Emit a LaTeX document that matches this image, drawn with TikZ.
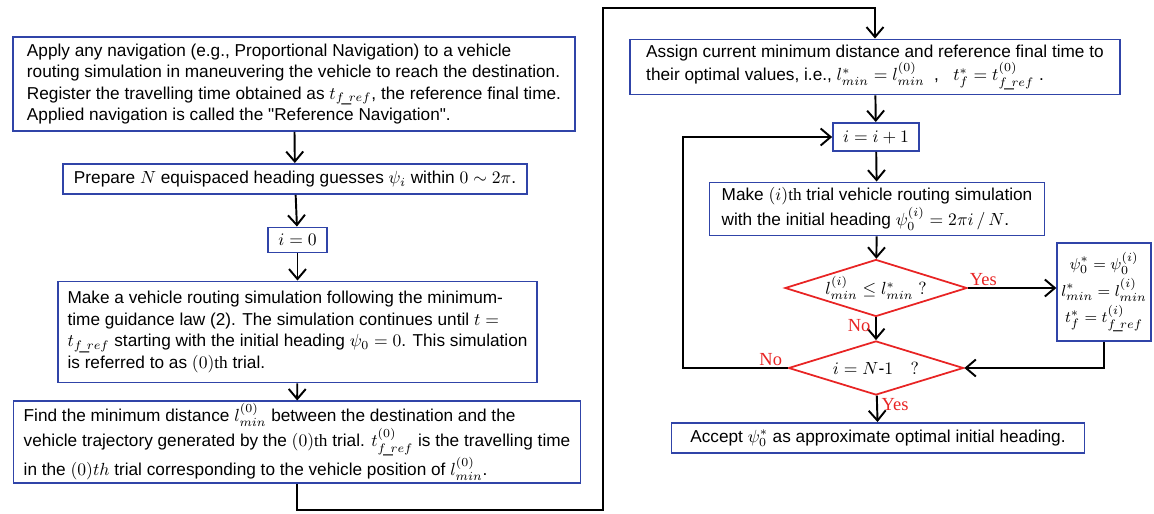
\documentclass[tikz,border=0pt]{standalone}
\usepackage{fontspec}
\setmainfont{Liberation Sans}
\newfontfamily\serif{Liberation Serif}
\usetikzlibrary{arrows.meta,shapes.geometric}
\definecolor{boxblue}{RGB}{48,68,168}
\definecolor{testred}{RGB}{232,36,36}
\newcommand{\fref}{f\mkern-3mu\_\mkern-3mu ref}

\begin{document}
\begin{tikzpicture}[
  stepbox/.style={draw=boxblue, line width=1.1pt, fill=white, inner xsep=0.2cm, inner ysep=0.1cm,
    font=\fontsize{9.8}{12.2}\selectfont},
  textbox/.style={stepbox, align=left, minimum width=#1},
  testbox/.style={diamond, draw=testred, line width=1pt, inner sep=0pt, aspect=3,
    font=\fontsize{10}{12}\selectfont},
  flow/.style={-{Straight Barb[length=2mm,width=3.4mm]}, line width=1.1pt},
  answer/.style={text=testred, font=\serif\fontsize{10.5}{12}\selectfont, inner sep=1pt}]

  \useasboundingbox (0,0) rectangle (23.08,-10.28);

  % --- left column: reference run and (0)th trial ---
  \node[textbox=11.24cm, minimum height=1.88cm] (refnav) at (5.88,-1.68)
    {Apply any navigation (e.g., Proportional Navigation) to a vehicle\\
     routing simulation in maneuvering the vehicle to reach the destination.\\
     Register the travelling time obtained as $t_{\fref}$, the reference final time.\\
     Applied navigation is called the \textquotedbl Reference Navigation\textquotedbl.};
  \node[stepbox, minimum width=9.28cm, minimum height=0.6cm] (guess) at (5.9,-3.58)
    {Prepare $N$ equispaced heading guesses $\psi_i$ within $0\sim 2\pi$.};
  \node[stepbox, minimum width=1.18cm, minimum height=0.5cm] (izero) at (5.95,-4.8) {$i=0$};
  \node[textbox=9.38cm, minimum height=2.02cm] (trial0) at (5.95,-6.64)
    {Make a vehicle routing simulation following the minimum-\\
     time guidance law (2). The simulation continues until $t=$\\
     $t_{\fref}$ starting with the initial heading $\psi_0=0$. This simulation\\
     is referred to as $(0)${\serif th} trial.};
  \node[textbox=11.34cm, minimum height=1.42cm, inner ysep=0.04cm] (lmin0) at (5.94,-8.84)
    {Find the minimum distance $l_{min}^{(0)}$ between the destination and the\\
     vehicle trajectory generated by the $(0)${\serif th} trial. $t_{\fref}^{(0)}$ is the travelling time\\
     in the $(0)th$ trial corresponding to the vehicle position of $l_{min}^{(0)}$.};

  % --- right column: loop over the heading guesses ---
  \node[textbox=9.8cm, minimum height=1.1cm] (assign) at (17.5,-1.34)
    {Assign current minimum distance and reference final time to\\
     their optimal values, i.e., $l_{min}^{*}=l_{min}^{(0)}$ \ , \ \ $t_f^{*}=t_{\fref}^{(0)}$ .};
  \node[stepbox, minimum width=1.34cm, minimum height=0.56cm] (inext) at (17.52,-2.74) {$i=i+1$};
  \node[textbox=6.7cm, minimum height=1.06cm] (trialI) at (17.54,-4.18)
    {Make $(i)${\serif th} trial vehicle routing simulation\\
     with the initial heading $\psi_0^{(i)}=2\pi i\,/\,N$.};
  \node[testbox, minimum width=3.64cm, minimum height=1.12cm] (better) at (17.52,-5.76)
    {$l_{min}^{(i)}\le l_{min}^{*}\ ?$};
  \node[stepbox, align=center, minimum width=1.84cm, minimum height=1.96cm, inner xsep=0.08cm,
    font=\fontsize{9.4}{12}\selectfont] (update) at (22.08,-5.84)
    {$\psi_0^{*}=\psi_0^{(i)}$\\[1pt] $l_{min}^{*}=l_{min}^{(i)}$\\[1pt] $t_f^{*}=t_{\fref}^{(i)}$};
  \node[testbox, minimum width=3.5cm, minimum height=1.08cm] (last) at (17.52,-7.36)
    {$i=N\mbox{-}1\quad ?$};
  \node[stepbox, minimum width=8.26cm, minimum height=0.6cm] (accept) at (17.56,-8.76)
    {Accept $\psi_0^{*}$ as approximate optimal initial heading.};

  % --- connectors ---
  \coordinate (down) at (5.94,-10.2);
  \coordinate (up) at (12.06,-0.16);
  \coordinate (back) at (13.66,-7.36);
  \draw[flow] (refnav) -- (guess);
  \draw[flow] (guess) -- (izero);
  \draw[flow] (izero) -- (trial0);
  \draw[flow] (trial0) -- (lmin0);
  \draw[flow] (lmin0.south) -- (down) -| (up) -| (assign.north);
  \draw[flow] (assign) -- (inext);
  \draw[flow] (inext) -- (trialI);
  \draw[flow] (trialI) -- (better);
  \draw[flow] (better.east) -- (update.west |- better.east);
  \draw[flow] (better) -- (last);
  \draw[flow] (update.south) |- (last.east);
  \draw[flow] (last.west) -- (back) |- (inext.west);
  \draw[flow] (last) -- (accept);

  % --- branch labels ---
  \node[answer, anchor=south west] (yes1) at (better.east) {Yes};
  \node[answer, anchor=north east] (no1) at ([xshift=-2pt]better.south) {No};
  \node[answer, anchor=south east] (no2) at ([xshift=-2pt]last.west) {No};
  \node[answer, anchor=north west] (yes2) at ([xshift=2pt]last.south) {Yes};
\end{tikzpicture}
\end{document}
